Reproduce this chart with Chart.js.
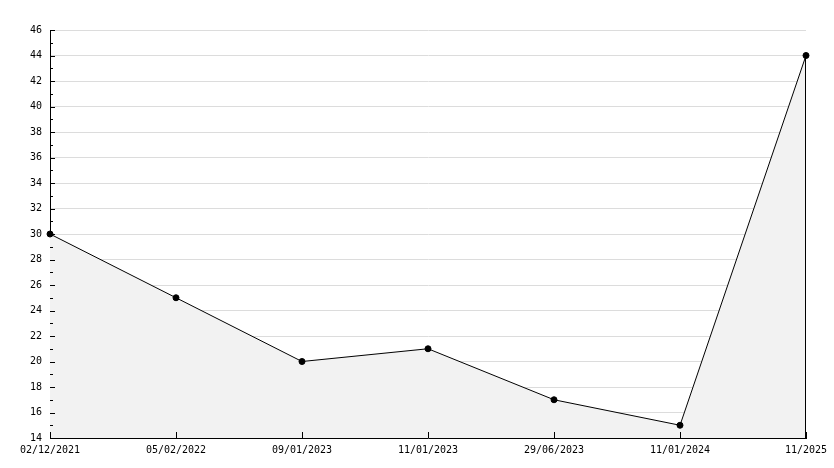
<!DOCTYPE html>
<html>
<head>
<meta charset="utf-8">
<script src="https://cdn.jsdelivr.net/npm/chart.js@4"></script>
<style>
  body { margin: 0; background: #fff; }
  #wrap { width: 834px; height: 468px; }
</style>
</head>
<body>
<div id="wrap"><canvas id="grafico"></canvas></div>
<script>
// datos
const fechas = ['02/12/2021', '05/02/2022', '09/01/2023', '11/01/2023', '29/06/2023', '11/01/2024', '11/2025'];
const valores = [30, 25, 20, 21, 17, 15, 44];
const yMin = 14;
const yMax = 46;
const yPaso = 2;

// marcas de eje hacia adentro + borde derecho del area
const marcasInternas = {
    id: 'marcasInternas',
    afterDraw(chart) {
        const ctx = chart.ctx;
        const x = chart.scales.x;
        const y = chart.scales.y;
        const ultimo = valores.length - 1;
        ctx.save();
        ctx.strokeStyle = '#000';
        ctx.lineWidth = 1;
        ctx.beginPath();
        // borde derecho del relleno
        const pxU = Math.round(x.getPixelForValue(ultimo)) - 0.5;
        ctx.moveTo(pxU, y.getPixelForValue(valores[ultimo]));
        ctx.lineTo(pxU, y.bottom);
        for (let v = yMin; v <= yMax; v += 1) {
            const py = Math.round(y.getPixelForValue(v)) + 0.5;
            const largo = (v % 2 === 0) ? 5 : 3;
            ctx.moveTo(x.left, py);
            ctx.lineTo(x.left + largo, py);
        }
        fechas.forEach((f, i) => {
            const px = Math.round(x.getPixelForValue(i)) + 0.5;
            ctx.moveTo(px, y.bottom);
            ctx.lineTo(px, y.bottom - 6);
        });
        ctx.stroke();
        ctx.restore();
    }
};

const fuente = { family: 'DejaVu Sans Mono', size: 10 };

new Chart(document.getElementById('grafico').getContext('2d'), {
    type: 'line',
    data: {
        labels: fechas,
        datasets: [{
            data: valores,
            borderColor: '#000',
            borderWidth: 1,
            backgroundColor: '#f2f2f2',
            fill: 'start',
            tension: 0,
            pointRadius: 3,
            pointBackgroundColor: '#000',
            pointBorderColor: '#000',
            pointBorderWidth: 1
        }]
    },
    options: {
        responsive: true,
        maintainAspectRatio: false,
        animation: false,
        layout: { padding: { top: 30, right: 28, left: 0, bottom: 0 } },
        plugins: {
            legend: { display: false },
            tooltip: { enabled: false }
        },
        scales: {
            x: {
                offset: false,
                grid: { display: false, drawTicks: false },
                border: { color: '#000', width: 1 },
                ticks: {
                    color: '#000',
                    font: fuente,
                    padding: 6,
                    maxRotation: 0,
                    autoSkip: false,
                    align: 'center'
                },
                afterFit(scale) { scale.height = 30; }
            },
            y: {
                min: yMin,
                max: yMax,
                grid: { color: '#dcdcdc', drawTicks: false },
                border: { color: '#000', width: 1 },
                ticks: {
                    stepSize: yPaso,
                    color: '#000',
                    font: fuente,
                    padding: 8
                },
                afterFit(scale) { scale.width = 50; }
            }
        }
    },
    plugins: [marcasInternas]
});
</script>
</body>
</html>
